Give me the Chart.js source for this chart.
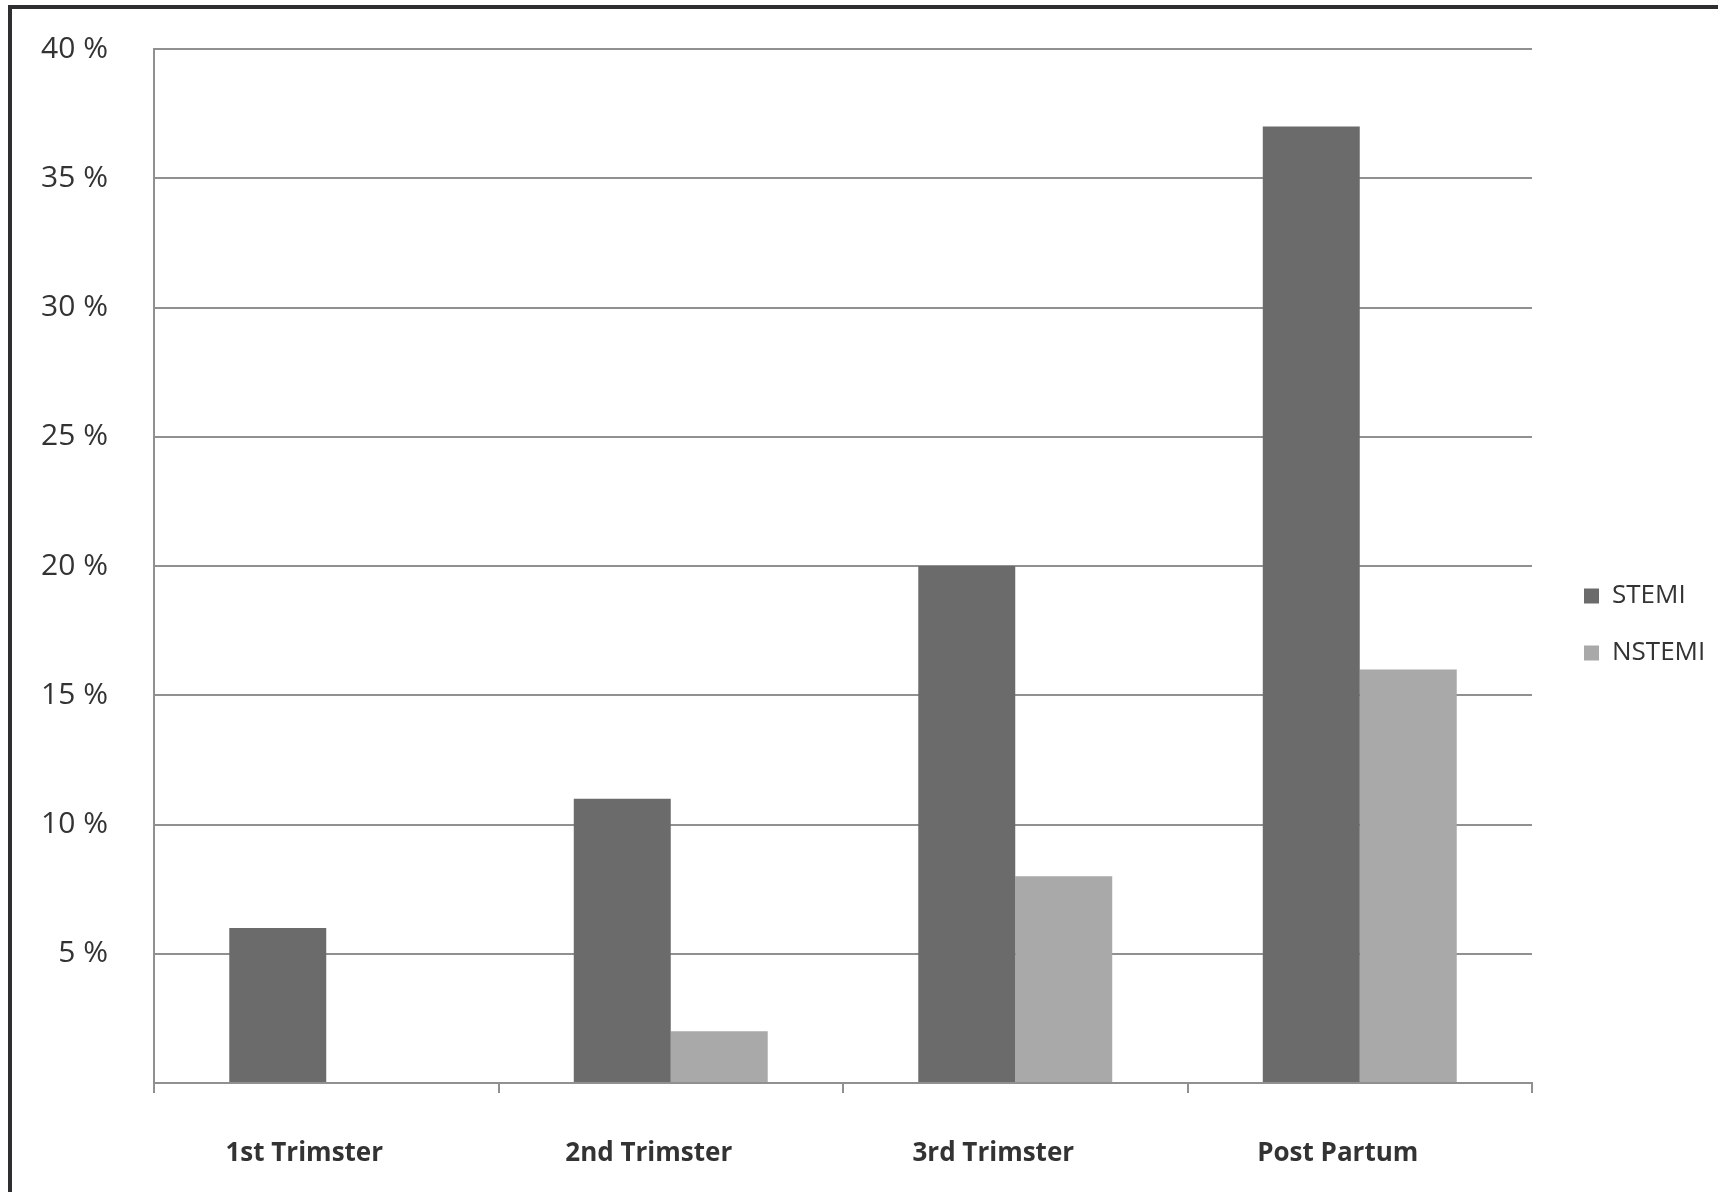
<!DOCTYPE html>
<html>
<head>
<meta charset="utf-8">
<title>STEMI and NSTEMI by pregnancy period</title>
<script src="https://cdn.jsdelivr.net/npm/chart.js@4"></script>
<style>
  html, body { margin: 0; padding: 0; background: #ffffff; overflow: hidden; }
  #wrap { position: relative; width: 1718px; height: 1192px; }
  #chart { display: block; position: absolute; left: 0; top: 0; }
  #frame {
    position: absolute; left: 8px; top: 5px; right: 0; bottom: 0;
    border-top: 4px solid #2e2e30; border-left: 4px solid #2e2e30;
    pointer-events: none;
  }
</style>
</head>
<body>
<div id="wrap">
  <canvas id="chart" width="1718" height="1192"></canvas>
  <div id="frame"></div>
</div>
<script>
// Periods along the x axis
const periods = ['1st Trimster', '2nd Trimster', '3rd Trimster', 'Post Partum'];
// Share of cases (%) in each period
const stemiShare = [6, 11, 20, 37];
const nstemiShare = [0, 2, 8, 16];
// Y axis tick values (%)
const percentTicks = [0, 5, 10, 15, 20, 25, 30, 35, 40];
// Series names
const seriesNames = ['STEMI', 'NSTEMI'];

const TEXT = '#333333';
const GRID = '#909090';

Chart.defaults.font.family = "'Open Sans', 'DejaVu Sans', sans-serif";
Chart.defaults.color = TEXT;

new Chart(document.getElementById('chart'), {
  type: 'bar',
  data: {
    labels: periods,
    datasets: [
      { label: seriesNames[0], data: stemiShare, backgroundColor: '#6b6b6b', borderWidth: 0 },
      { label: seriesNames[1], data: nstemiShare, backgroundColor: '#a9a9a9', borderWidth: 0 }
    ]
  },
  options: {
    responsive: false,
    animation: false,
    events: [],
    layout: { padding: { top: 49, bottom: -8, left: 0, right: 15 } },
    datasets: { bar: { categoryPercentage: 0.563, barPercentage: 1 } },
    plugins: {
      tooltip: { enabled: false },
      title: { display: false },
      legend: {
        position: 'right',
        align: 'center',
        maxWidth: 150,
        labels: {
          boxWidth: 15,
          boxHeight: 15,
          padding: 31,
          color: '#333333',
          font: { size: 26 }
        }
      }
    },
    scales: {
      x: {
        offset: true,
        grid: {
          offset: true,
          drawOnChartArea: false,
          drawTicks: true,
          tickLength: 10,
          color: GRID,
          lineWidth: 2
        },
        border: { display: true, color: GRID, width: 2 },
        ticks: {
          autoSkip: false,
          maxRotation: 0,
          padding: 45,
          labelOffset: -22,
          color: TEXT,
          font: { size: 26, weight: 'bold' }
        },
        afterFit(scale) { scale.height = 117; }
      },
      y: {
        min: 0,
        max: 40,
        afterBuildTicks(scale) { scale.ticks = percentTicks.map(v => ({ value: v })); },
        grid: { drawTicks: false, color: GRID, lineWidth: 2 },
        border: { display: true, color: GRID, width: 2 },
        ticks: {
          padding: 46,
          color: TEXT,
          font: { size: 30 },
          callback: v => (v === 0 ? '' : v + ' %')
        },
        afterFit(scale) {
          scale.width = 154;
          scale.paddingTop = 0;
          scale.paddingBottom = 0;
        }
      },
      // empty spacer between the plot and the legend
      gap: {
        type: 'linear',
        position: 'right',
        display: true,
        grid: { display: false },
        border: { display: false },
        ticks: { display: false },
        afterFit(scale) { scale.width = 21; }
      }
    }
  }
});
</script>
</body>
</html>
